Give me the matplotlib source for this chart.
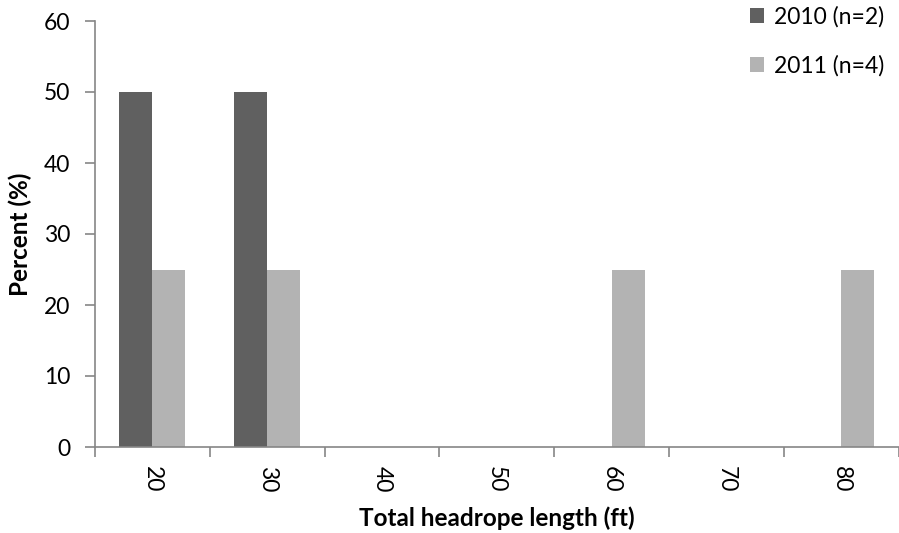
import matplotlib
matplotlib.use("Agg")
import matplotlib.pyplot as plt
import numpy as np

categories = ["20", "30", "40", "50", "60", "70", "80"]
series_2010 = [50, 50, 0, 0, 0, 0, 0]
series_2011 = [25, 25, 0, 0, 25, 0, 25]
labels = ["2010 (n=2)", "2011 (n=4)"]
yticks = [0, 10, 20, 30, 40, 50, 60]

plt.rcParams['font.family'] = ['Lato', 'DejaVu Sans']

fig = plt.figure(figsize=(8.99, 5.33), dpi=100)
ax = fig.add_axes([95/899, 1-447/533, 1-95/899 - 0.0005, (447-21)/533])

x = np.arange(len(categories))
w = 0.287
c1, c2 = "#606060", "#b3b3b3"
b1 = ax.bar(x - w/2, series_2010, width=w, color=c1, label=labels[0])
b2 = ax.bar(x + w/2, series_2011, width=w, color=c2, label=labels[1])

fs = 16.5
ax.set_xlim(-0.5, len(categories) - 0.5)
ax.set_ylim(0, 60)
ax.set_yticks(yticks)
ax.set_yticklabels([str(v) for v in yticks], fontsize=fs)
ax.set_xticks(x)
ax.set_xticklabels(categories, rotation=-90, fontsize=fs)
ax.tick_params(axis='x', which='major', length=0, pad=14)
ax.set_xticks(np.arange(-0.5, len(categories) + 0.5, 1), minor=True)
ax.tick_params(axis='x', which='minor', length=7, color="#868686", width=1.2)
ax.tick_params(axis='y', length=7, color="#868686", width=1.2, pad=11)

for s in ["top", "right"]:
    ax.spines[s].set_visible(False)
for s in ["left", "bottom"]:
    ax.spines[s].set_color("#868686")
    ax.spines[s].set_linewidth(1.2)

ax.set_ylabel("Percent (%)", fontsize=17.5, fontweight="bold", labelpad=8)
ax.set_xlabel("Total headrope length (ft)", fontsize=17.5, fontweight="bold", labelpad=10)

leg = fig.legend(handles=[b1, b2], labels=labels, loc="upper left",
                 bbox_to_anchor=(741/899, 1 + 3/533), frameon=False, fontsize=fs,
                 handlelength=0.62, handleheight=0.62, handletextpad=0.4,
                 labelspacing=1.2, borderaxespad=0)

fig.savefig("out.png", dpi=100)
